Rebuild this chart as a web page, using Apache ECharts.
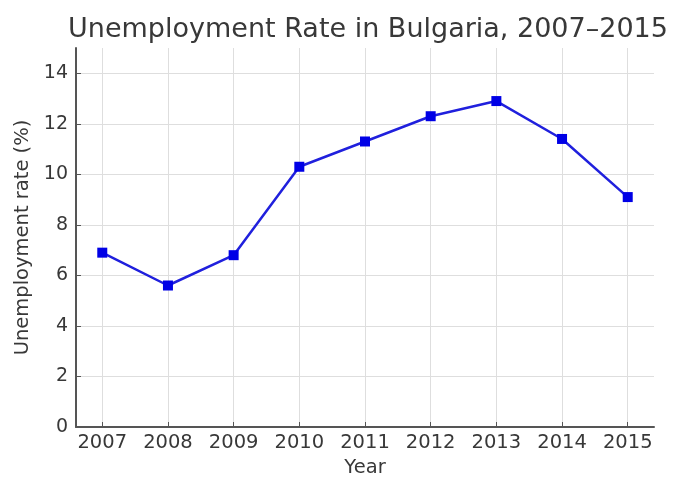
<!DOCTYPE html>
<html>
<head>
<meta charset="utf-8">
<script src="https://cdn.jsdelivr.net/npm/echarts@6/dist/echarts.min.js"></script>
<style>html,body{margin:0;padding:0;background:#fff;}#c{width:673px;height:483px;}</style>
</head>
<body>
<div id="c"></div>
<script>
var years = [2007, 2008, 2009, 2010, 2011, 2012, 2013, 2014, 2015];
var rates = [6.9, 5.6, 6.8, 10.3, 11.3, 12.3, 12.9, 11.4, 9.1];
var yTicks = [0, 2, 4, 6, 8, 10, 12, 14];
var titleText = 'Unemployment Rate in Bulgaria, 2007\u20132015';
var xName = 'Year';
var yName = 'Unemployment rate (%)';

var font = 'DejaVu Sans';
var chart = echarts.init(document.getElementById('c'), null, {renderer: 'canvas'});
chart.setOption({
  animation: false,
  backgroundColor: '#fff',
  title: {
    text: titleText, left: 363, top: 11, textAlign: 'center',
    textStyle: {fontFamily: font, fontSize: 27, fontWeight: 'normal', color: '#383838'}
  },
  grid: {left: 76, right: 19, top: 48, bottom: 52, containLabel: false},
  xAxis: {
    type: 'value', min: 2006.6, max: 2015.4,
    name: xName, nameLocation: 'middle', nameGap: 31,
    nameTextStyle: {fontFamily: font, fontSize: 19.5, color: '#383838'},
    axisLine: {show: true, lineStyle: {color: '#555', width: 2}},
    axisTick: {show: true, inside: true, length: 5, customValues: years, lineStyle: {color: '#555'}},
    axisLabel: {customValues: years, fontFamily: font, fontSize: 19.5, color: '#383838', margin: 6, formatter: function(v){return String(v);}},
    splitLine: {show: true, lineStyle: {color: '#dedede', width: 1}}
  },
  yAxis: {
    type: 'value', min: 0, max: 15,
    name: yName, nameLocation: 'middle', nameGap: 42,
    nameTextStyle: {fontFamily: font, fontSize: 19.5, color: '#383838'},
    axisLine: {show: true, lineStyle: {color: '#555', width: 2}},
    axisTick: {show: true, inside: true, length: 5, customValues: yTicks, lineStyle: {color: '#555'}},
    axisLabel: {customValues: yTicks, fontFamily: font, fontSize: 19, color: '#383838', margin: 8},
    splitLine: {show: true, lineStyle: {color: '#dedede', width: 1}}
  },
  series: [{
    type: 'line',
    data: years.map(function(y, i){return [y, rates[i]];}),
    symbol: 'rect', symbolSize: 10,
    itemStyle: {color: '#0000e6'},
    lineStyle: {color: '#2020dd', width: 2.5}
  }]
});
</script>
</body>
</html>
